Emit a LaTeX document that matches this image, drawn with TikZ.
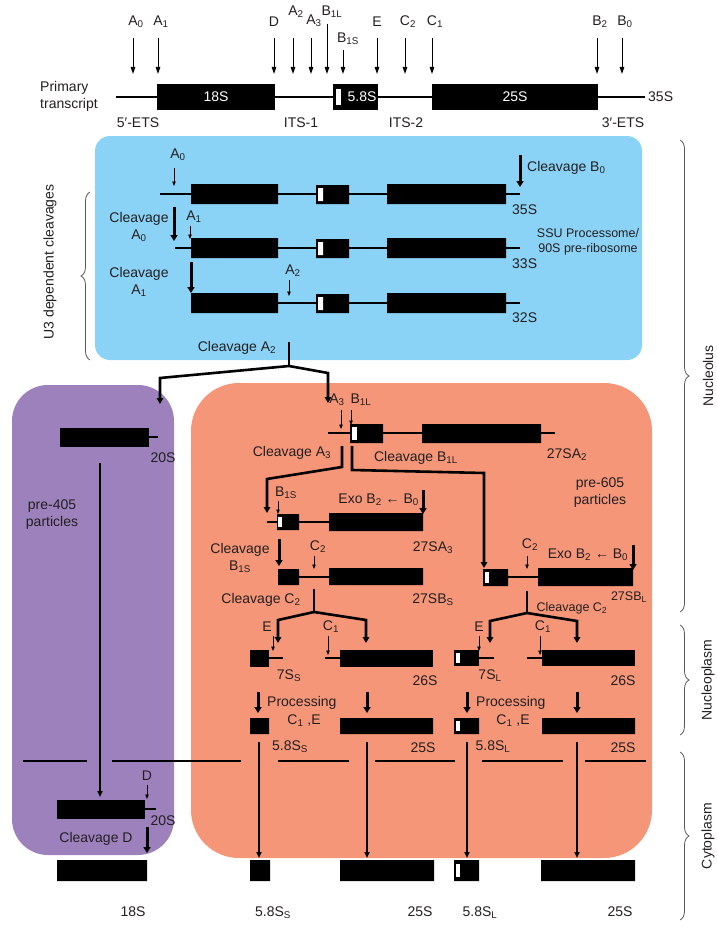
\documentclass[tikz,border=0pt]{standalone}
\usepackage{fontspec}
\setmainfont{Liberation Sans}
\usetikzlibrary{arrows.meta,calc,decorations.pathreplacing}
\definecolor{uthreeblue}{RGB}{138,211,246}
\definecolor{preforty}{RGB}{157,129,189}
\definecolor{presixty}{RGB}{245,150,120}
\definecolor{inkgray}{RGB}{35,31,32}
\newcommand{\ix}[1]{\textsubscript{#1}}
\tikzset{
  rnabar/.style={fill=black},
  whitetag/.style={fill=white},
  rnaline/.style={draw=black,line width=1.1pt},
  sitearrow/.style={
    draw=black,
    line width=1.0pt,
    -{Triangle[length=7pt,width=4.5pt]}
  },
  cutmark/.style={
    draw=black,
    line width=0.9pt,
    -{Triangle[length=4.5pt,width=3.5pt]}
  },
  stepmark/.style={
    draw=black,
    line width=3.0pt,
    -{Triangle[length=6pt,width=7pt]}
  },
  routeline/.style={
    draw=black,
    line width=2.6pt,
    line join=miter,
    -{Triangle[length=6pt,width=6.5pt]}
  },
  exportline/.style={
    draw=black,
    line width=1.7pt,
    -{Triangle[length=6pt,width=5pt]}
  },
  membrane/.style={draw=black,line width=1.6pt},
  compbrace/.style={
    draw=black!65,
    line width=0.8pt,
    decorate,
    decoration={brace,amplitude=9pt}
  },
  lbl/.style={text=inkgray,inner sep=0pt,font=\fontsize{14}{17}\selectfont},
  smalllbl/.style={text=inkgray,inner sep=0pt,font=\fontsize{12.5}{15}\selectfont},
  barlbl/.style={text=white,inner sep=0pt,font=\fontsize{14}{17}\selectfont}
}

\begin{document}
\begin{tikzpicture}[x=1pt,y=-1pt]
  \useasboundingbox (0,0) rectangle (716,931);

  % Compartment panels.
  \fill[uthreeblue,rounded corners=15pt] (95,136) rectangle (642,360);
  \fill[preforty,rounded corners=36pt] (12,385) rectangle (174,855);
  \fill[presixty,rounded corners=48pt] (191,383) rectangle (652,858);

  % Primary transcript.
  \draw[rnaline] (116,97) -- (645,97);
  \fill[rnabar] (157,84) rectangle (275,110);
  \fill[rnabar] (333,84) rectangle (378,110);
  \fill[whitetag] (336,89) rectangle (341,105);
  \fill[rnabar] (432,84) rectangle (598,110);
  \node[barlbl] (t18) at (216,97) {18S};
  \node[barlbl] (t58) at (362,97) {5.8S};
  \node[barlbl] (t25) at (515,97) {25S};
  \node[lbl,anchor=west] (t35) at (648,97) {35S};
  \node[lbl,align=left,anchor=west] (prim) at (40,96) {Primary\\transcript};
  \node[lbl] (ets5) at (138,123) {5′-ETS};
  \node[lbl] (its1) at (301,123) {ITS-1};
  \node[lbl] (its2) at (406,123) {ITS-2};
  \node[lbl] (ets3) at (623,123) {3′-ETS};

  % Processing sites on the primary transcript.
  \node[lbl] (sA0) at (136,22) {A\ix{0}};
  \node[lbl] (sA1) at (161,22) {A\ix{1}};
  \node[lbl] (sD)  at (274,22) {D};
  \node[lbl] (sA2) at (296,12) {A\ix{2}};
  \node[lbl] (sA3) at (314,21) {A\ix{3}};
  \node[lbl] (sB1L) at (332,12) {B\ix{1L}};
  \node[lbl] (sB1S) at (348,39) {B\ix{1S}};
  \node[lbl] (sE)  at (377,22) {E};
  \node[lbl] (sC2) at (408,22) {C\ix{2}};
  \node[lbl] (sC1) at (435,22) {C\ix{1}};
  \node[lbl] (sB2) at (600,22) {B\ix{2}};
  \node[lbl] (sB0) at (625,22) {B\ix{0}};
  \draw[sitearrow] (133,38) -- (133,74);
  \draw[sitearrow] (158,38) -- (158,74);
  \draw[sitearrow] (274,38) -- (274,74);
  \draw[sitearrow] (293,38) -- (293,74);
  \draw[sitearrow] (311,38) -- (311,74);
  \draw[sitearrow] (327,24) -- (327,74);
  \draw[sitearrow] (343,50) -- (343,74);
  \draw[sitearrow] (377,38) -- (377,74);
  \draw[sitearrow] (405,38) -- (405,74);
  \draw[sitearrow] (432,38) -- (432,74);
  \draw[sitearrow] (597,38) -- (597,74);
  \draw[sitearrow] (622,38) -- (622,74);

  % U3 dependent cleavages inside the SSU processome.
  \draw[rnaline] (160,194) -- (520,194);
  \draw[rnaline] (175,248) -- (520,248);
  \draw[rnaline] (191,303) -- (520,303);
  \fill[rnabar] (191,184) rectangle (278,204) (316,185) rectangle (349,204)
    (387,184) rectangle (506,204);
  \fill[rnabar] (191,238) rectangle (278,258) (316,239) rectangle (349,258)
    (387,238) rectangle (506,258);
  \fill[rnabar] (191,293) rectangle (278,313) (316,294) rectangle (349,313)
    (387,293) rectangle (506,313);
  \fill[whitetag] (318,188) rectangle (323,201) (318,242) rectangle (323,255)
    (318,297) rectangle (323,310);
  \node[lbl,anchor=west] (r35) at (512,210) {35S};
  \node[lbl,anchor=west] (r33) at (512,264) {33S};
  \node[lbl,anchor=west] (r32) at (512,318) {32S};
  \node[lbl] (cA0site) at (178,155) {A\ix{0}};
  \draw[cutmark] (174,168) -- (174,186);
  \node[lbl] (cA1site) at (194,217) {A\ix{1}};
  \draw[cutmark] (190,226) -- (190,239);
  \node[lbl] (cA2site) at (293,271) {A\ix{2}};
  \draw[cutmark] (289,280) -- (289,296);
  \node[lbl,align=center] (cleaveA0) at (139,227) {Cleavage\\A\ix{0}};
  \draw[stepmark] (174,207) -- (174,241);
  \node[lbl,align=center] (cleaveA1) at (139,282) {Cleavage\\A\ix{1}};
  \draw[stepmark] (191,262) -- (191,293);
  \node[lbl,anchor=west] (cleaveB0) at (527,168) {Cleavage B\ix{0}};
  \draw[stepmark] (520,155) -- (520,187);
  \node[smalllbl,align=center] (ssu) at (588,242)
    {SSU Processome/\\90S pre-ribosome};

  % Cleavage at A2 separates the pre-40S and pre-60S routes.
  \node[lbl] (cleaveA2) at (237,348) {Cleavage A\ix{2}};
  \draw[line width=2.6pt] (289,342) -- (289,366);
  \draw[routeline] (289,366) -- (160,378) -- (160,404);
  \draw[routeline] (289,366) -- (328,373) -- (328,403);

  % Pre-40S particles.
  \fill[rnabar] (60,428) rectangle (149,447);
  \draw[rnaline] (149,437) -- (158,437);
  \node[lbl] (s20a) at (163,458) {20S};
  \node[lbl,align=center] (pre40) at (52,515) {pre-405\\particles};
  \draw[exportline] (100,463) -- (100,797);
  \node[lbl] (sDp) at (147,776) {D};
  \draw[cutmark] (147,785) -- (147,799);
  \fill[rnabar] (57,800) rectangle (145,819);
  \draw[rnaline] (145,809) -- (156,809);
  \node[lbl] (s20b) at (163,821) {20S};
  \node[lbl] (cleaveD) at (96,839) {Cleavage D};
  \draw[stepmark] (147,827) -- (147,853);

  % Pre-60S particles: 27SA2.
  \node[lbl] (oA3) at (337,400) {A\ix{3}};
  \node[lbl] (oB1L) at (361,400) {B\ix{1L}};
  \draw[cutmark] (341,410) -- (341,429);
  \draw[cutmark] (351,410) -- (351,425);
  \draw[rnaline] (328,433) -- (555,433);
  \fill[rnabar] (350,424) rectangle (383,443) (422,424) rectangle (541,443);
  \fill[whitetag] (352,427) rectangle (357,440);
  \node[lbl] (r27a2) at (567,455) {27SA\ix{2}};
  \node[lbl] (cleaveA3) at (292,453) {Cleavage A\ix{3}};
  \node[lbl] (cleaveB1L) at (416,458) {Cleavage B\ix{1L}};
  \draw[routeline] (342,446) -- (342,467) -- (267,479) -- (267,513);
  \draw[routeline] (352,446) -- (352,470) -- (484,473) -- (484,568);
  \node[lbl,align=center] (pre60) at (600,493) {pre-605\\particles};

  % Short-form branch: 27SA3 and 27SBS.
  \node[lbl] (oB1S) at (286,493) {B\ix{1S}};
  \draw[cutmark] (278,501) -- (278,514);
  \node[lbl,anchor=east] (exoS) at (419,500) {Exo B\ix{2} ← B\ix{0}};
  \draw[stepmark] (423,490) -- (423,514);
  \draw[rnaline] (267,522) -- (423,522);
  \fill[rnabar] (277,514) rectangle (299,530) (329,513) rectangle (423,531);
  \fill[whitetag] (278,517) rectangle (282,527);
  \node[lbl] (r27a3) at (433,548) {27SA\ix{3}};
  \node[lbl,align=center] (cleaveB1S) at (240,558) {Cleavage\\B\ix{1S}};
  \draw[stepmark] (279,539) -- (279,566);
  \node[lbl] (oC2s) at (318,547) {C\ix{2}};
  \draw[cutmark] (314,556) -- (314,569);
  \draw[rnaline] (299,577) -- (329,577);
  \fill[rnabar] (278,569) rectangle (299,585) (329,568) rectangle (423,585);
  \node[lbl] (r27bs) at (433,600) {27SB\ix{S}};
  \node[lbl] (cleaveC2s) at (261,600) {Cleavage C\ix{2}};
  \draw[line width=2.6pt] (314,589) -- (314,612);
  \draw[routeline] (314,612) -- (278,620) -- (278,643);
  \draw[routeline] (314,612) -- (366,620) -- (366,643);

  % Long-form branch: 27SBL.
  \node[lbl] (oC2l) at (530,545) {C\ix{2}};
  \draw[cutmark] (527,556) -- (527,569);
  \node[lbl] (exoL) at (588,555) {Exo B\ix{2} ← B\ix{0}};
  \draw[stepmark] (633,545) -- (633,570);
  \draw[rnaline] (508,577) -- (538,577);
  \fill[rnabar] (483,569) rectangle (508,586) (538,568) rectangle (633,586);
  \fill[whitetag] (485,572) rectangle (489,583);
  \node[smalllbl] (r27bl) at (629,597) {27SB\ix{L}};
  \node[smalllbl] (cleaveC2l) at (572,608) {Cleavage C\ix{2}};
  \draw[line width=2.6pt] (527,591) -- (527,613);
  \draw[routeline] (527,613) -- (490,621) -- (490,643);
  \draw[routeline] (527,613) -- (577,621) -- (577,643);

  % Nucleoplasm: 7S and 26S intermediates.
  \node[lbl] (oEs) at (267,627) {E};
  \draw[cutmark] (273,636) -- (273,651);
  \fill[rnabar] (250,650) rectangle (269,667);
  \draw[rnaline] (269,658) -- (283,658);
  \node[lbl] (r7s) at (289,676) {7S\ix{S}};
  \node[lbl] (oC1s) at (331,627) {C\ix{1}};
  \draw[cutmark] (328,636) -- (328,655);
  \draw[rnaline] (325,658) -- (340,658);
  \fill[rnabar] (340,650) rectangle (433,667);
  \node[lbl] (r26s) at (425,681) {26S};
  \node[lbl] (oEl) at (479,627) {E};
  \draw[cutmark] (479,636) -- (479,651);
  \fill[rnabar] (454,650) rectangle (479,666);
  \fill[whitetag] (456,653) rectangle (460,663);
  \draw[rnaline] (479,658) -- (494,658);
  \node[lbl] (r7l) at (490,676) {7S\ix{L}};
  \node[lbl] (oC1l) at (543,627) {C\ix{1}};
  \draw[cutmark] (540,636) -- (540,655);
  \draw[rnaline] (527,658) -- (542,658);
  \fill[rnabar] (542,650) rectangle (635,666);
  \node[lbl] (r26l) at (623,681) {26S};

  % Processing of C1 and E.
  \draw[stepmark] (258,692) -- (258,713);
  \draw[stepmark] (367,692) -- (367,713);
  \draw[stepmark] (467,692) -- (467,713);
  \draw[stepmark] (577,692) -- (577,713);
  \node[lbl,anchor=west] (procS) at (267,703) {Processing};
  \node[lbl] (procSsite) at (304,721) {C\ix{1} ,E};
  \node[lbl,anchor=west] (procL) at (476,703) {Processing};
  \node[lbl] (procLsite) at (513,721) {C\ix{1} ,E};
  \fill[rnabar] (250,718) rectangle (269,734) (340,718) rectangle (433,734)
    (454,718) rectangle (479,734) (542,718) rectangle (635,734);
  \fill[whitetag] (456,721) rectangle (460,731);
  \node[lbl] (m58s) at (290,747) {5.8S\ix{S}};
  \node[lbl] (m25s) at (423,748) {25S};
  \node[lbl] (m58l) at (493,747) {5.8S\ix{L}};
  \node[lbl] (m25l) at (623,748) {25S};

  % Nuclear envelope.
  \draw[membrane] (23,761) -- (87,761) (112,761) -- (241,761)
    (278,761) -- (349,761) (375,761) -- (455,761)
    (482,761) -- (563,761) (585,761) -- (646,761);

  % Export to the cytoplasm.
  \draw[exportline] (259,742) -- (259,858);
  \draw[exportline] (367,742) -- (367,858);
  \draw[exportline] (467,742) -- (467,858);
  \draw[exportline] (577,742) -- (577,858);

  % Mature rRNAs.
  \fill[rnabar] (57,860) rectangle (147,881) (250,860) rectangle (270,881)
    (340,860) rectangle (434,881) (454,860) rectangle (479,881)
    (541,860) rectangle (635,881);
  \fill[whitetag] (456,864) rectangle (460,877);
  \node[lbl] (f18) at (133,912) {18S};
  \node[lbl] (f58s) at (273,913) {5.8S\ix{S}};
  \node[lbl] (f25s) at (420,912) {25S};
  \node[lbl] (f58l) at (480,913) {5.8S\ix{L}};
  \node[lbl] (f25l) at (620,912) {25S};

  % Compartment braces.
  \draw[compbrace] (90,360) -- (90,192);
  \node[lbl,rotate=90] (u3) at (50,262) {U3 dependent cleavages};
  \draw[compbrace] (680,140) -- (680,612);
  \node[lbl,rotate=90] (nucleolus) at (708,376) {Nucleolus};
  \draw[compbrace] (680,625) -- (680,735);
  \node[lbl,rotate=90] (nucleoplasm) at (708,680) {Nucleoplasm};
  \draw[compbrace] (680,752) -- (680,920);
  \node[lbl,rotate=90] (cytoplasm) at (708,836) {Cytoplasm};

\end{tikzpicture}
\end{document}
